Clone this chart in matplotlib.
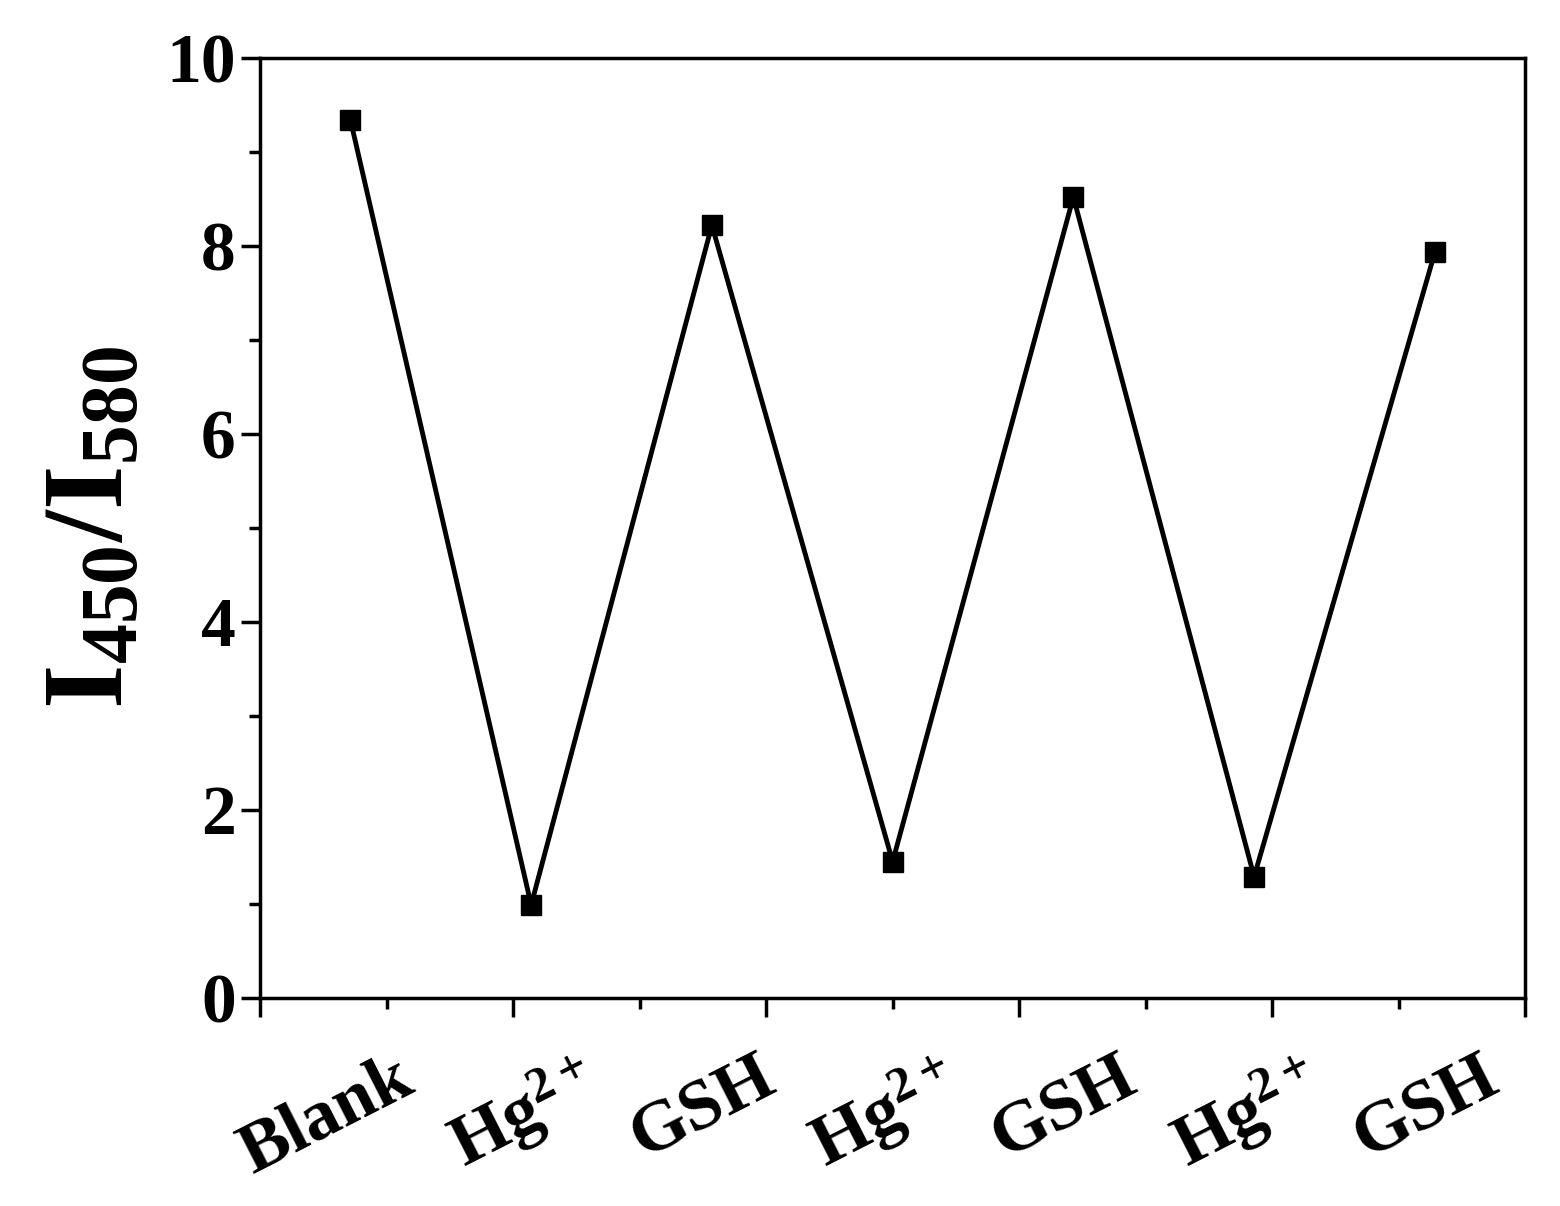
import matplotlib.pyplot as plt
import matplotlib.transforms as mtransforms
from matplotlib.ticker import MultipleLocator

plt.rcParams['font.family'] = 'Liberation Serif'
plt.rcParams['font.weight'] = 'bold'
plt.rcParams['mathtext.fontset'] = 'custom'
plt.rcParams['mathtext.rm'] = 'Liberation Serif:bold'
plt.rcParams['mathtext.bf'] = 'Liberation Serif:bold'
plt.rcParams['mathtext.it'] = 'Liberation Serif:bold'

labels = ['Blank', 'Hg$^{2+}$', 'GSH', 'Hg$^{2+}$', 'GSH', 'Hg$^{2+}$', 'GSH']
ratio = [9.34, 0.99, 8.22, 1.45, 8.52, 1.29, 7.93]

# points sit at the middle of seven equal slots over an axis running 0..10
xpos = [(i + 0.5) * 10 / 7 for i in range(len(ratio))]

fig = plt.figure(figsize=(15.6, 12.06), dpi=100)
ax = fig.add_axes([0.1667, 0.1725, 0.811, 0.7795])

ax.plot(xpos, ratio, 'ks-', linewidth=3.5, markersize=15)

ax.set_xlim(0, 10)
ax.set_ylim(0, 10)
ax.xaxis.set_major_locator(MultipleLocator(2))
ax.xaxis.set_minor_locator(MultipleLocator(1))
ax.yaxis.set_major_locator(MultipleLocator(2))
ax.yaxis.set_minor_locator(MultipleLocator(1))
ax.set_xticklabels([])
ax.tick_params(axis='both', which='major', length=14, width=2.5, direction='out', labelsize=50)
ax.tick_params(axis='both', which='minor', length=8, width=2.5, direction='out')
ax.tick_params(axis='x', which='both', top=False)
for s in ax.spines.values():
    s.set_linewidth(2.5)

trans = mtransforms.blended_transform_factory(ax.transData, ax.transAxes)
for x, lab in zip(xpos, labels):
    ax.text(x + 0.35, -0.05, lab, transform=trans, rotation=27, ha='right', va='top',
            fontsize=52, fontweight='bold', rotation_mode='anchor')

ax.set_ylabel(r'$\mathbf{I_{450}/I_{580}}$', fontsize=82, labelpad=14)

plt.savefig('out.png', dpi=100)
